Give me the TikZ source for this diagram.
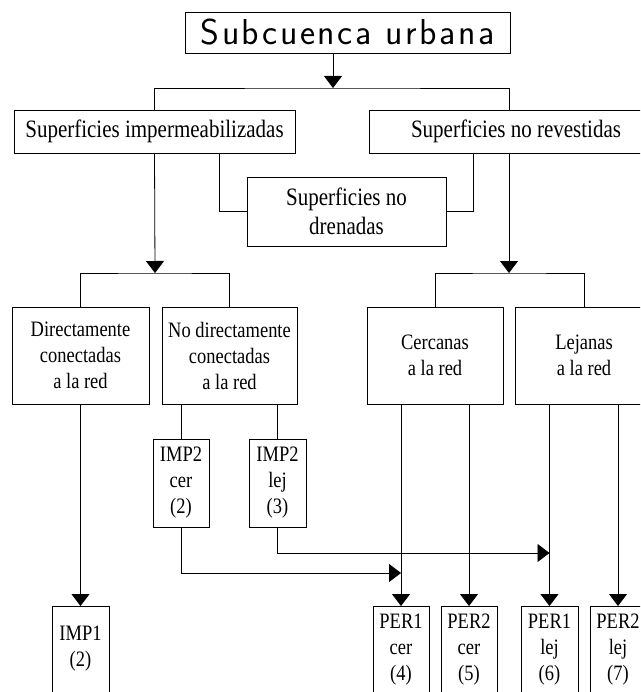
\documentclass[tikz,border=0pt]{standalone}
\usepackage{fontspec}
\usetikzlibrary{arrows.meta}
\newfontfamily\tnr[FakeStretch=0.84]{Liberation Serif}
\newfontfamily\rotulo[LetterSpace=7]{Latin Modern Sans}
\newcommand{\letragrande}{\tnr\fontsize{25}{29}\selectfont}
\newcommand{\letrachica}{\tnr\fontsize{22}{26}\selectfont}
\tikzset{
  caja/.style={draw, inner sep=0pt, align=center},
  abierta/.style={caja, anchor=north, font=\letrachica, text height=22pt, text depth=120pt},
  flecha/.style={-{Triangle[length=12pt,width=18pt]}},
}

\begin{document}
\begin{tikzpicture}[x=1pt, y=-1pt, line width=0.8pt]
  \clip (0,0) rectangle (640,692);
  % nivel 1
  \node[caja, minimum width=325pt, minimum height=41pt, font=\rotulo\fontsize{36}{40}\selectfont] (titulo) at (347.5,32.5) {Subcuenca urbana};
  \node[caja, minimum width=281pt, minimum height=43pt, font=\letragrande] (imper) at (154.5,131.5) {Superficies impermeabilizadas};
  \node[caja, minimum width=294pt, minimum height=43pt, font=\letragrande] (revest) at (516,131.5) {Superficies no revestidas};
  \node[caja, minimum width=199pt, minimum height=69pt, font=\letragrande] (drenadas) at (346.5,211.5) {Superficies no\\drenadas};
  % nivel 2
  \node[caja, minimum width=137pt, minimum height=97pt, font=\letrachica] (directa) at (80.5,355.5) {Directamente\\conectadas\\a la red};
  \node[caja, minimum width=135pt, minimum height=97pt, font=\letrachica] (nodirecta) at (229.5,355.5) {No directamente\\conectadas\\a la red};
  \node[caja, minimum width=136pt, minimum height=97pt, font=\letrachica] (cercanas) at (435,355.5) {Cercanas\\a la red};
  \node[caja, minimum width=138pt, minimum height=97pt, font=\letrachica] (lejanas) at (584,355.5) {Lejanas\\a la red};
  % nivel 3
  \node[caja, minimum width=56pt, minimum height=88pt, font=\letrachica] (imp2cer) at (181,483) {IMP2\\cer\\(2)};
  \node[caja, minimum width=57pt, minimum height=88pt, font=\letrachica] (imp2lej) at (277.5,483) {IMP2\\lej\\(3)};
  % nivel 4
  \node[abierta, text width=57pt, text height=34pt, text depth=110pt] (imp1) at (80.5,606) {IMP1\\(2)};
  \node[abierta, text width=56pt] (per1cer) at (401,606) {PER1\\cer\\(4)};
  \node[abierta, text width=56pt] (per2cer) at (469,606) {PER2\\cer\\(5)};
  \node[abierta, text width=57pt] (per1lej) at (549.5,606) {PER1\\lej\\(6)};
  \node[abierta, text width=56pt] (per2lej) at (618,606) {PER2\\lej\\(7)};

  % conexiones
  \coordinate (j1) at (333,88);
  \coordinate (j2) at (155,273);
  \coordinate (j3) at (509,273);
  \draw[flecha] (titulo.south -| j1) -- (j1);
  \draw (imper.north) |- (j1) -| (revest.north -| j3);
  \draw[flecha] (imper.south) -- (j2);
  \draw[flecha] (revest.south -| j3) -- (j3);
  \draw ([xshift=64.5pt]imper.south) |- (drenadas.west);
  \draw ([xshift=-43pt]revest.south) |- (drenadas.east);
  \draw (directa.north) |- (j2) -| (nodirecta.north);
  \draw (cercanas.north) |- (j3) -| (lejanas.north);
  \draw (imp2cer.north |- nodirecta.south) -- (imp2cer.north);
  \draw (imp2lej.north |- nodirecta.south) -- (imp2lej.north);
  \draw[flecha] (directa.south) -- (imp1.north);
  \draw[flecha] (per1cer.north |- cercanas.south) -- (per1cer.north);
  \draw[flecha] (per2cer.north |- cercanas.south) -- (per2cer.north);
  \draw[flecha] (per1lej.north |- lejanas.south) -- (per1lej.north);
  \draw[flecha] (per2lej.north |- lejanas.south) -- (per2lej.north);
  \draw[flecha] (imp2cer.south) |- ([yshift=33pt]per1cer.north);
  \draw[flecha] (imp2lej.south) |- ([yshift=53pt]per1lej.north);
\end{tikzpicture}
\end{document}
